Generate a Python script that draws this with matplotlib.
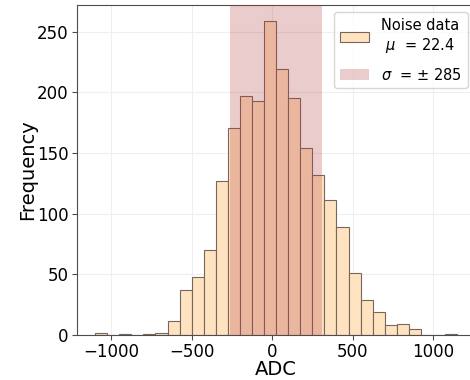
import matplotlib.pyplot as plt
import numpy as np

# Histogram of noise samples (ADC counts), 30 bins of width 75
bin_edges = np.arange(-1100, 1151, 75)
counts = [2, 0, 1, 0, 1, 2, 12, 37, 48, 70,
          127, 171, 197, 193, 259, 219, 195, 154, 132, 111,
          89, 51, 29, 19, 8, 9, 5, 0, 0, 1]
mu = 22.4
sigma = 285

fig = plt.figure(figsize=(4.7, 3.8), dpi=100)
ax = fig.add_axes([0.164, 0.118, 0.847, 0.869])

ax.hist(bin_edges[:-1], bins=bin_edges, weights=counts, color='#ffe2c0',
        edgecolor='#76665c', linewidth=0.8,
        label='Noise data\n $\\mu$  = 22.4')
ax.axvspan(mu - sigma, mu + sigma, color='#b33a40', alpha=0.26, lw=0,
           zorder=3, label='$\\sigma$  = $\\pm$ 285')

ax.set_axisbelow(True)
ax.grid(True, color='#efefef', linewidth=0.8)
ax.set_xticks([-1000, -500, 0, 500, 1000])
ax.tick_params(labelsize=12, color='0.3', pad=2.5)
for s in ax.spines.values():
    s.set_color('0.3')
ax.set_xlabel('ADC', fontsize=14, labelpad=-1)
ax.set_ylabel('Frequency', fontsize=14, labelpad=0)
ax.legend(loc='upper right', fontsize=10.5, handlelength=2.0,
          labelspacing=0.8)

fig.savefig('out.png', dpi=100)
